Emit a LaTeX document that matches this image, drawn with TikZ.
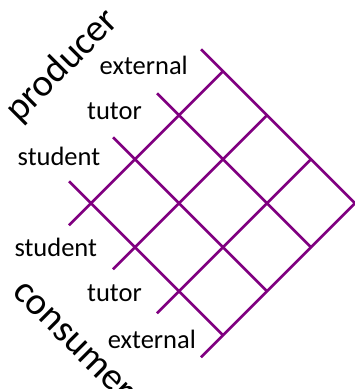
\documentclass[tikz,border=0pt]{standalone}
\usepackage{fontspec}
\setmainfont{Carlito}
\definecolor{gridpurple}{RGB}{128,0,128}
\begin{document}
\begin{tikzpicture}[x=1pt,y=-1pt,
  lbl/.style={anchor=base west, inner sep=0pt, font=\fontsize{26.5}{30}\selectfont},
  big/.style={anchor=base west, inner sep=0pt, font=\fontsize{38.5}{44}\selectfont},
  gridline/.style={draw=gridpurple, line width=2.6pt, line join=miter}]
\useasboundingbox (0,0) rectangle (355,389);
\begin{scope}[shift={(91,203.3)}, x={(44pt,-44pt)}, y={(44pt,44pt)}]
  \coordinate (corner) at (3,3);
  \foreach \k in {0,1,2} {
    \coordinate (d\k s) at (-0.5,\k);
    \coordinate (d\k e) at (3,\k);
    \draw[gridline] (d\k s) -- (d\k e);
    \coordinate (a\k s) at (\k,-0.5);
    \coordinate (a\k e) at (\k,3);
    \draw[gridline] (a\k s) -- (a\k e);
  }
  \coordinate (d3s) at (-0.5,3);
  \coordinate (a3s) at (3,-0.5);
  \draw[gridline] (d3s) -- (corner) -- (a3s);
\end{scope}
\node[big, rotate=45] (prod) at (19,123.5) {producer};
\node[big, rotate=-45] (cons) at (11.5,293) {consumer};
\node[lbl] (pext) at (99.5,74) {external};
\node[lbl] (ptut) at (87,119.3) {tutor};
\node[lbl] (pstu) at (17.5,165) {student};
\node[lbl] (cstu) at (14.3,256) {student};
\node[lbl] (ctut) at (87,301.7) {tutor};
\node[lbl] (cext) at (107.6,348) {external};
\end{tikzpicture}
\end{document}
